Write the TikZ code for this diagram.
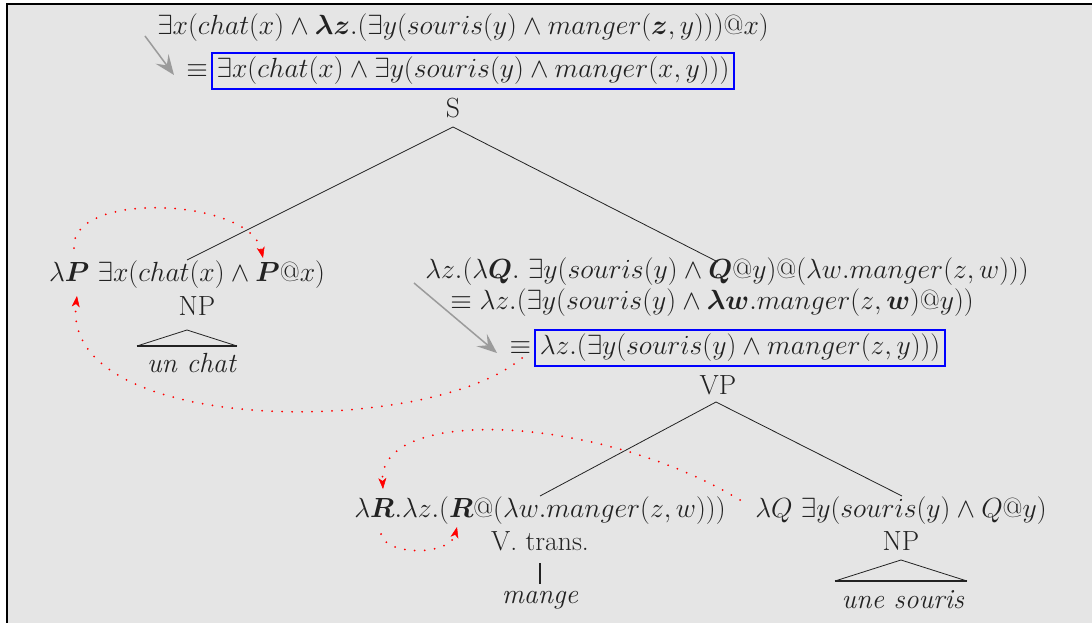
\documentclass[tikz,border=0pt]{standalone}
\usepackage{fix-cm}
\usepackage[no-math]{fontspec}
\usepackage{amsmath}
\usepackage{bm}
\usetikzlibrary{arrows.meta,positioning}
\definecolor{bg}{RGB}{229,229,229}
\definecolor{txt}{RGB}{34,34,34}
\definecolor{garr}{RGB}{155,155,155}
\tikzset{
  lbl/.style={text=txt, font=\fontsize{27.7}{33}\selectfont, inner sep=0pt},
  res/.style={lbl, draw=blue, line width=1.8pt, inner sep=4.5pt},
  branch/.style={draw=txt, line width=0.8pt},
  thickbase/.style={draw=txt, line width=2.8pt},
  garrow/.style={draw=garr, line width=1.5pt, -{Stealth[length=20pt,width=16pt,inset=8pt]}},
  rdot/.style={draw=red, line width=2pt, line cap=round, dash pattern=on 0pt off 10pt,
    -{Stealth[length=11pt,width=8pt,inset=3pt,line width=0.5pt]}}
}
\begin{document}
\begin{tikzpicture}[x=1pt,y=-1pt]
\useasboundingbox (0,0) rectangle (1092,623);
\fill[bg] (7,4) rectangle (1100,640);
\draw[line width=1.5pt] (7,640) -- (7,4) -- (1100,4);

% top
\node[lbl] (t1) at (463,28) {$\exists x(chat(x) \wedge \bm{\lambda}\bm{z}.(\exists y(souris(y)\wedge manger(\bm{z},y)))@x)$};
\node[res] (t2) at (473,71) {$\exists x(chat(x)\wedge\exists y(souris(y)\wedge manger(x,y)))$};
\node[lbl, left=3pt of t2] (eq1) {$\equiv$};
\node[lbl] (S) at (453,108) {S};

% left NP
\node[lbl] (np1f) at (187,275) {$\lambda\bm{P}\ \exists x(chat(x)\wedge\bm{P}@x)$};
\node[lbl] (np1) at (197,306) {NP};
\node[lbl] (unchat) at (192,363) {\textit{un chat}};
\coordinate (a1) at (187,330);
\coordinate (b1l) at (137,346);
\coordinate (b1r) at (237,346);

% right VP
\node[lbl] (vp1) at (727,272) {$\lambda z.(\lambda\bm{Q}.\ \exists y(souris(y)\wedge\bm{Q}@y)@(\lambda w.manger(z,w)))$};
\node[lbl] (vp2) at (712,303) {$\equiv\lambda z.(\exists y(souris(y)\wedge\bm{\lambda}\bm{w}.manger(z,\bm{w})@y))$};
\node[res] (vp3) at (740,348) {$\lambda z.(\exists y(souris(y)\wedge manger(z,y)))$};
\node[lbl, left=3pt of vp3] (eq2) {$\equiv$};
\node[lbl] (VP) at (718,385) {VP};

% bottom
\node[lbl] (vt) at (540,511) {$\lambda\bm{R}.\lambda z.(\bm{R}@(\lambda w.manger(z,w)))$};
\node[lbl] (VT) at (540,541) {V. trans.};
\node[lbl] (mange) at (540,600) {\textit{mange}};
\node[lbl] (np2f) at (901,511) {$\lambda Q\ \exists y(souris(y)\wedge Q@y)$};
\node[lbl] (NP2) at (901,541) {NP};
\node[lbl] (souris) at (903,600) {\textit{une souris}};
\coordinate (a2) at (901,560);
\coordinate (b2l) at (835,581);
\coordinate (b2r) at (967,581);
\coordinate (vtt) at (540,563);
\coordinate (vtb) at (540,584);

% tree branches
\coordinate (Sb) at (453,127);
\coordinate (VPb) at (716,402);
\draw[branch] (Sb) -- (187,260);
\draw[branch] (Sb) -- (718,262);
\draw[branch] (VPb) -- (540,496);
\draw[branch] (VPb) -- (902,496);

% triangles
\draw[branch] (b1l) -- (a1) -- (b1r);
\draw[thickbase] (b1l) -- (b1r);
\draw[branch] (b2l) -- (a2) -- (b2r);
\draw[thickbase] (b2l) -- (b2r);
\draw[thickbase] (vtt) -- (vtb);

% gray arrows
\coordinate (g1s) at (145,36);
\coordinate (g1e) at (174,75);
\draw[garrow] (g1s) -- (g1e);
\coordinate (g2s) at (414,283);
\coordinate (g2e) at (497,353);
\draw[garrow] (g2s) -- (g2e);

% red dotted arrows
\coordinate (r1s) at (74,248);
\coordinate (r1e) at (263,258);
\draw[rdot] (r1s) .. controls (70,190) and (250,198) .. (r1e);
\coordinate (r2s) at (522,358);
\coordinate (r2e) at (77,296);
\draw[rdot] (r2s) .. controls (430,437) and (60,437) .. (r2e);
\coordinate (r3s) at (740,500);
\coordinate (r3e) at (383,489);
\draw[rdot] (r3s) .. controls (600,415) and (378,405) .. (r3e);
\coordinate (r4s) at (381,534);
\coordinate (r4e) at (457,527);
\draw[rdot] (r4s) .. controls (385,556) and (450,556) .. (r4e);
\end{tikzpicture}
\end{document}
